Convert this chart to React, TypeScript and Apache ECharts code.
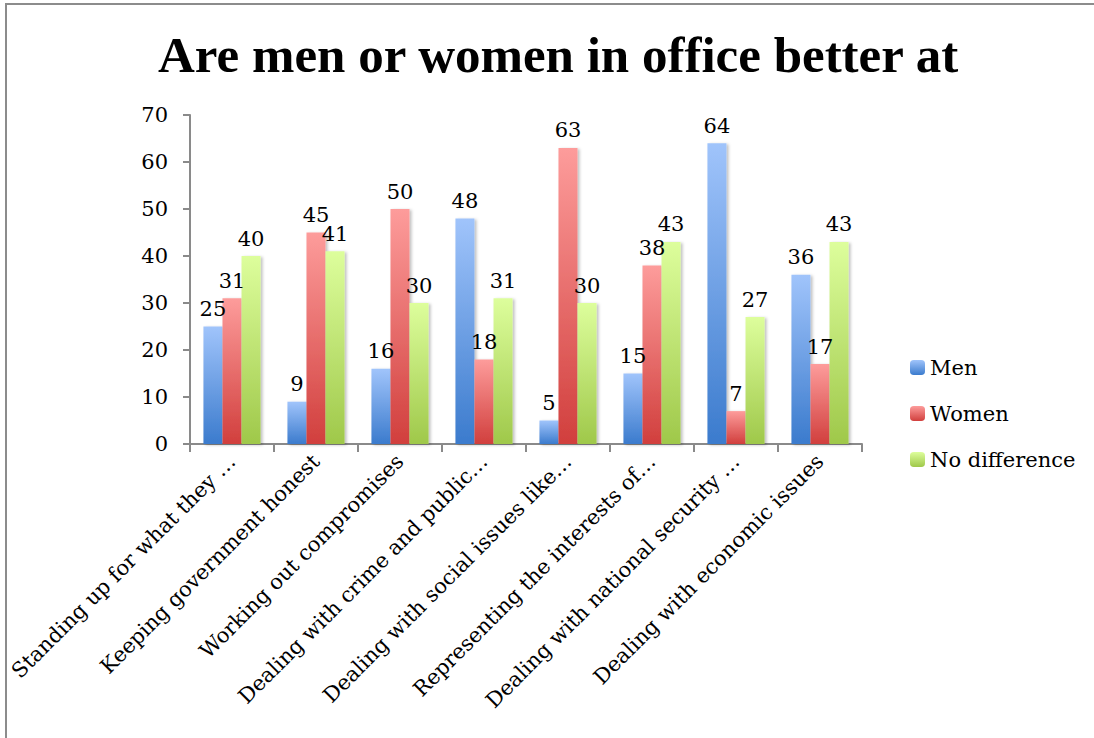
import React, { useEffect, useRef } from "react";
import * as echarts from "echarts";

const categories = [
  "Standing up for what they …",
  "Keeping government honest",
  "Working out compromises",
  "Dealing with crime and public…",
  "Dealing with social issues like…",
  "Representing the interests of…",
  "Dealing with national security …",
  "Dealing with economic issues",
];
const men = [25, 9, 16, 48, 5, 15, 64, 36];
const women = [31, 45, 50, 18, 63, 38, 7, 17];
const noDifference = [40, 41, 30, 31, 30, 43, 27, 43];
const seriesNames = ["Men", "Women", "No difference"];
const yTicks = { min: 0, max: 70, interval: 10 };

const FONT = "DejaVu Serif";

function grad(top: string, bottom: string) {
  return new echarts.graphic.LinearGradient(0, 0, 0, 1, [
    { offset: 0, color: top },
    { offset: 1, color: bottom },
  ]);
}

const palettes = [
  ["#a0c4fb", "#3b7bcd"],
  ["#fd9c9b", "#d13f3d"],
  ["#ddfe9c", "#9fc84a"],
];

export default function App() {
  const ref = useRef<HTMLDivElement>(null);
  useEffect(() => {
    if (!ref.current) return;
    const chart = echarts.init(ref.current, null, { renderer: "svg" });
    const datas = [men, women, noDifference];
    chart.setOption({
      animation: false,
      backgroundColor: "#ffffff",
      title: {
        text: "Are men or women in office better at",
        left: 153,
        top: 24,
        textStyle: {
          fontFamily: "Liberation Serif",
          fontWeight: "bold",
          fontSize: 51,
          color: "#000",
        },
      },
      graphic: [
        {
          type: "rect",
          shape: { x: 6, y: 4, width: 1100, height: 760 },
          style: { fill: "none", stroke: "#8c8c8c", lineWidth: 2 },
          silent: true,
        },
      ],
      legend: {
        orient: "vertical",
        left: 905,
        top: 352,
        itemWidth: 15,
        itemHeight: 15,
        itemGap: 25,
        textStyle: { fontFamily: FONT, fontSize: 21, color: "#000" },
        data: seriesNames,
      },
      grid: { left: 190, right: 232, top: 115, bottom: 294, containLabel: false },
      xAxis: {
        type: "category",
        data: categories,
        axisLine: { lineStyle: { color: "#8a8a8a", width: 2 } },
        axisTick: { show: true, length: 8, lineStyle: { color: "#8a8a8a", width: 2 } },
        axisLabel: {
          rotate: 45,
          interval: 0,
          margin: 14,
          fontFamily: FONT,
          fontSize: 21,
          color: "#000",
        },
      },
      yAxis: {
        type: "value",
        min: yTicks.min,
        max: yTicks.max,
        interval: yTicks.interval,
        axisLine: { show: true, lineStyle: { color: "#8a8a8a", width: 2 } },
        axisTick: { show: true, length: 7, lineStyle: { color: "#8a8a8a", width: 2 } },
        axisLabel: { fontFamily: FONT, fontSize: 21, color: "#000", margin: 22 },
        splitLine: {
          lineStyle: {
            color: "#8a8a8a",
            width: 2,
            shadowColor: "rgba(0,0,0,0.25)",
            shadowBlur: 2,
            shadowOffsetY: 2,
          },
        },
      },
      series: datas.map((d, i) => ({
        name: seriesNames[i],
        type: "bar",
        data: d,
        barGap: "0%",
        barCategoryGap: "32%",
        itemStyle: {
          color: grad(palettes[i][0], palettes[i][1]),
          shadowColor: "rgba(0,0,0,0.25)",
          shadowBlur: 3,
          shadowOffsetX: 2,
          shadowOffsetY: 1,
        },
        label: {
          show: true,
          position: "top",
          distance: 7,
          fontFamily: FONT,
          fontSize: 21,
          color: "#000",
        },
      })),
    });
    return () => chart.dispose();
  }, []);
  return (
    <div
      ref={ref}
      style={{ position: "fixed", left: 0, top: 0, width: 1094, height: 738 }}
    />
  );
}
